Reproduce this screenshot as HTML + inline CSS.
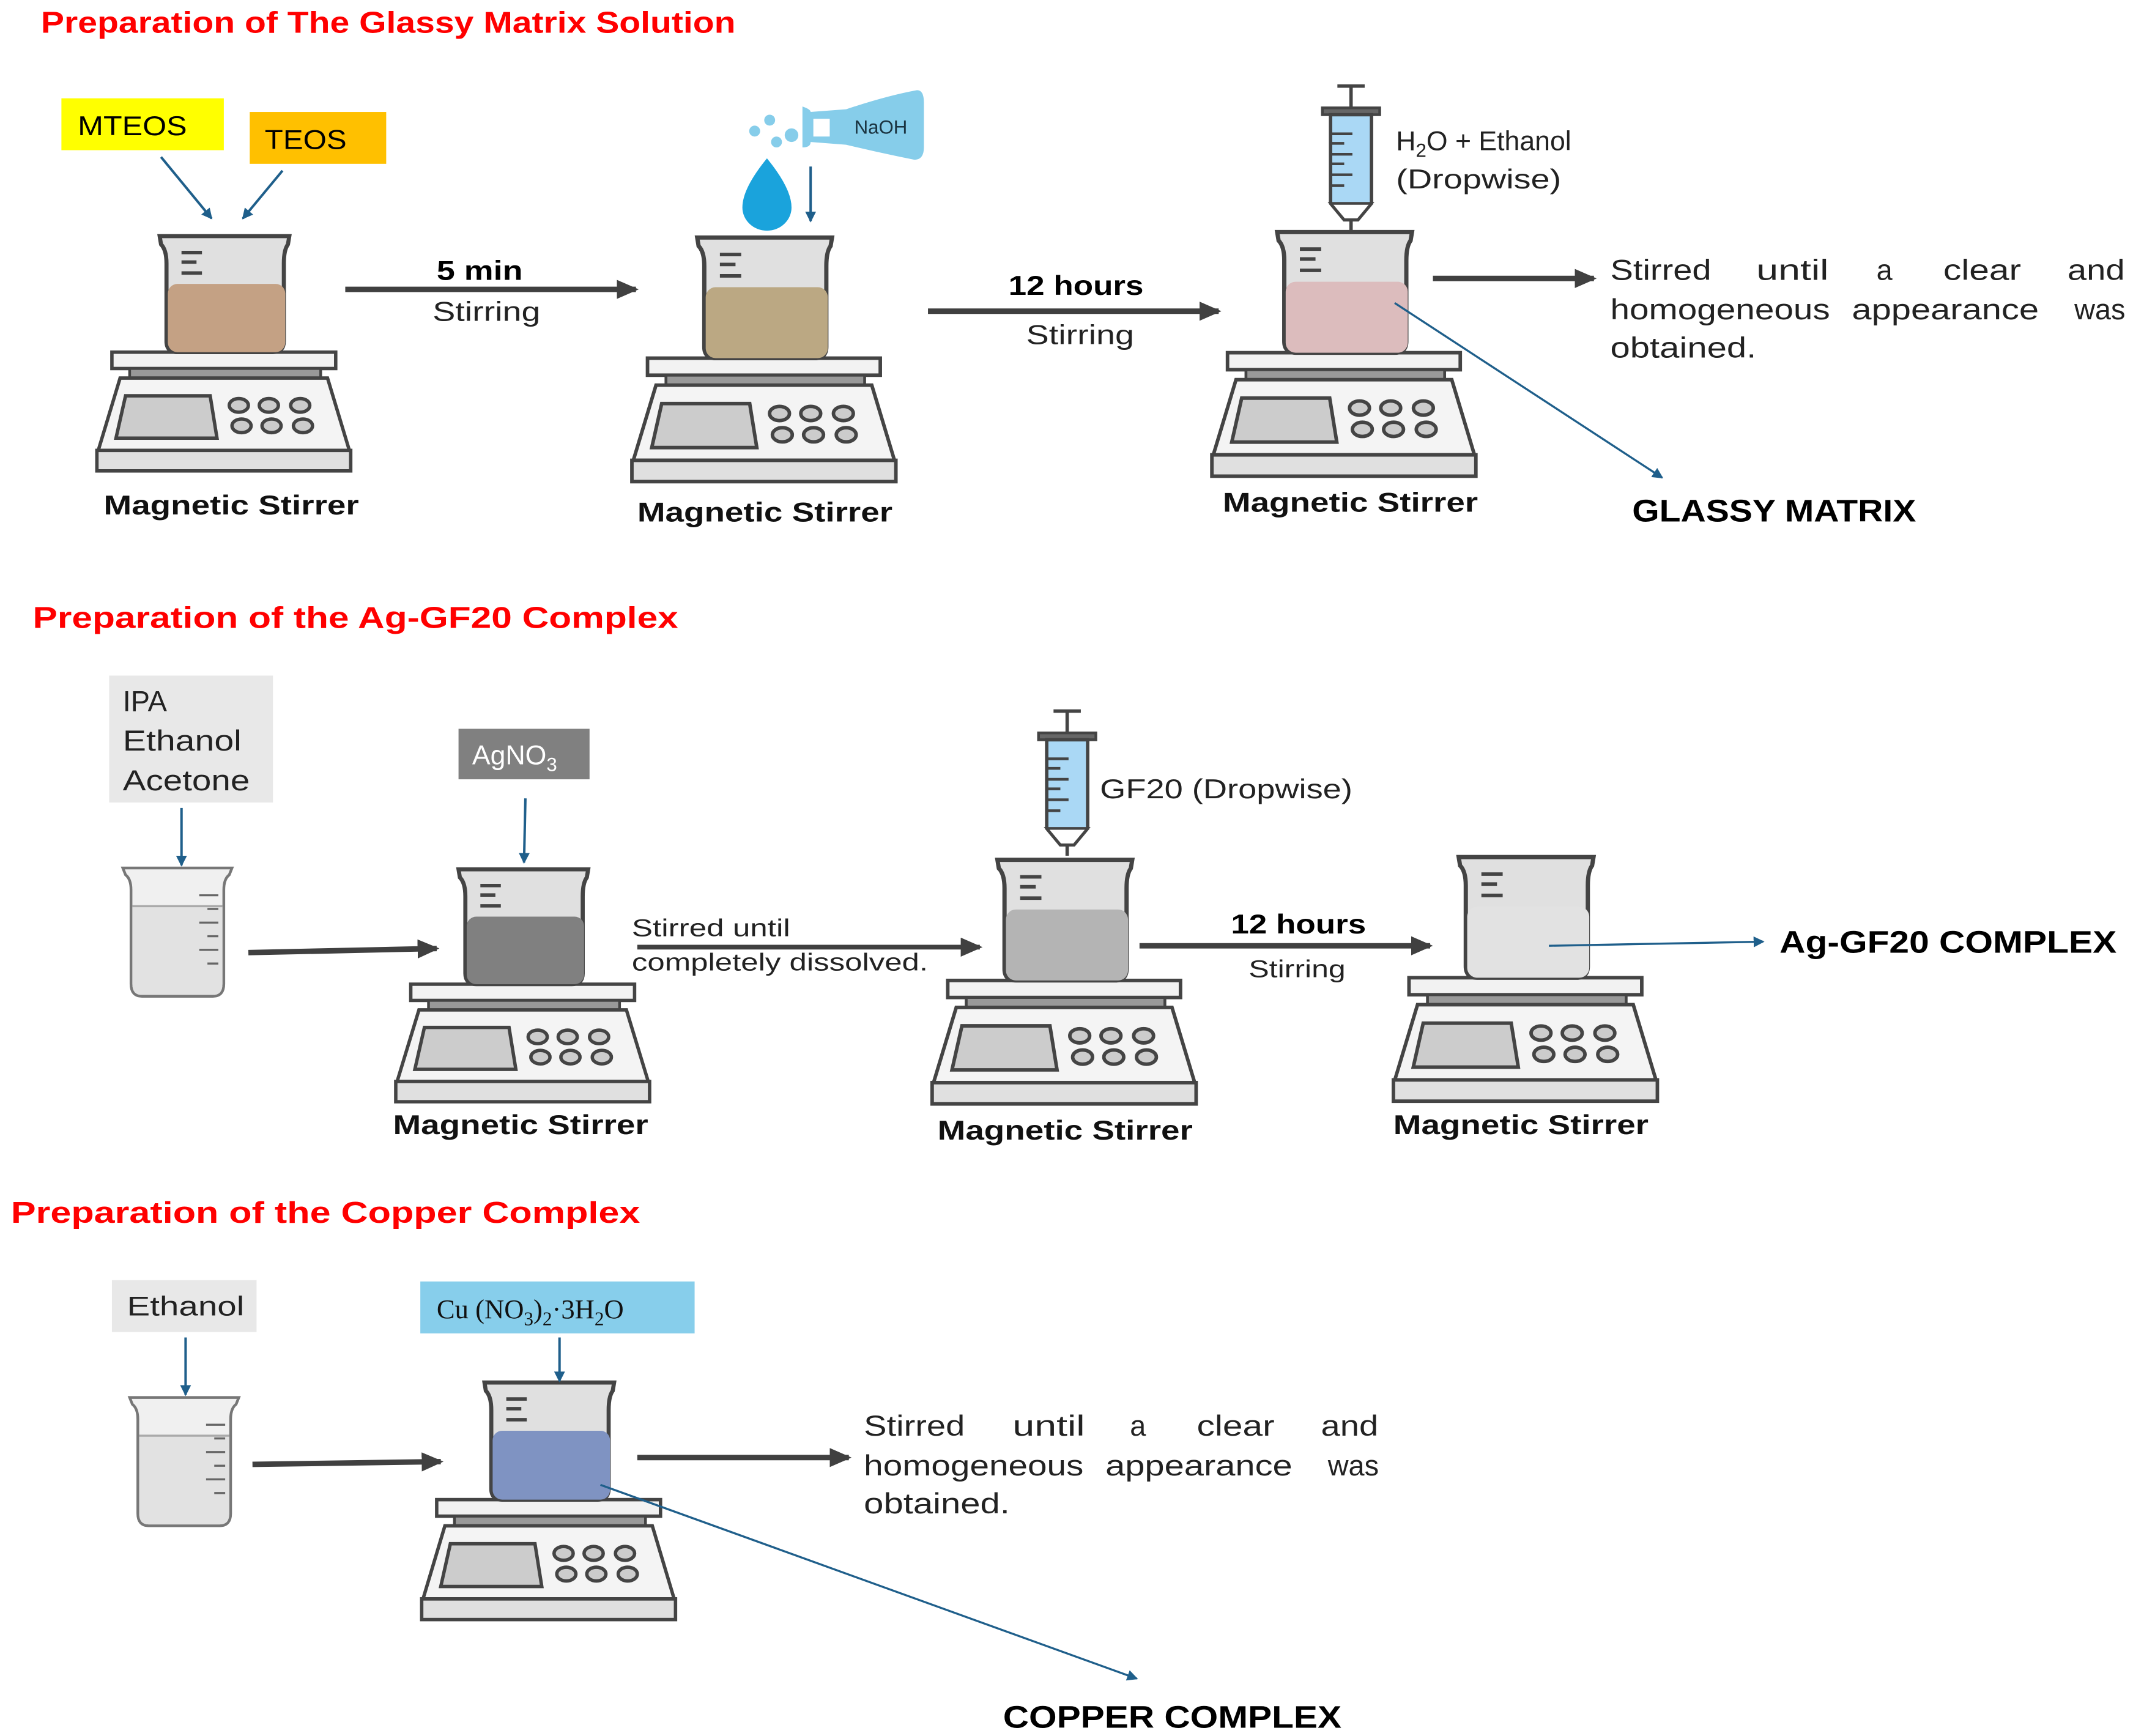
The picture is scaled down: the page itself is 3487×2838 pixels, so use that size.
<!DOCTYPE html>
<html><head><meta charset="utf-8"><style>html,body{margin:0;padding:0;background:#fff}svg{display:block}</style></head><body>
<svg xmlns="http://www.w3.org/2000/svg" width="3487" height="2838" viewBox="0 0 1563 1272" font-family="Liberation Sans, sans-serif">
<defs>
<marker id="ab" markerWidth="8" markerHeight="8" refX="7" refY="4" orient="auto" markerUnits="userSpaceOnUse"><path d="M0,0 L8,4 L0,8 Z" fill="#1f5f8b"/></marker>
<marker id="ad" markerWidth="16" markerHeight="14" refX="14" refY="7" orient="auto" markerUnits="userSpaceOnUse"><path d="M0,0 L16,7 L0,14 Z" fill="#404040"/></marker>
<g id="base">
<rect x="12" y="85" width="164" height="12" fill="#f2f2f2" stroke="#444" stroke-width="2.5"/>
<rect x="25" y="97" width="140" height="7" fill="#999" stroke="#444" stroke-width="2"/>
<polygon points="18,104 170,104 186,157 2,157" fill="#f4f4f4" stroke="#444" stroke-width="2.5"/>
<rect x="1" y="157" width="186" height="15" fill="#e0e0e0" stroke="#444" stroke-width="2.5"/>
<polygon points="22,117 84,117 89,148 15,148" fill="#ccc" stroke="#444" stroke-width="2.5"/>
<g fill="#ccc" stroke="#444" stroke-width="2.5">
<ellipse cx="105" cy="124" rx="7" ry="5"/><ellipse cx="127" cy="124" rx="7" ry="5"/><ellipse cx="150" cy="124" rx="7" ry="5"/>
<ellipse cx="107" cy="139" rx="7" ry="5"/><ellipse cx="129" cy="139" rx="7" ry="5"/><ellipse cx="152" cy="139" rx="7" ry="5"/>
</g>
</g>
<path id="bk" d="M47,0 L142,0 L141,6 Q138,10 138,20 L138,77 Q138,85 130,85 L60,85 Q52,85 52,77 L52,20 Q52,10 48,6 Z"/>
<g id="marks" stroke="#444" stroke-width="2.5"><line x1="63" y1="12" x2="78" y2="12"/><line x1="63" y1="19" x2="74" y2="19"/><line x1="63" y1="27" x2="78" y2="27"/></g>
<g id="syr">
<line x1="-10" y1="0" x2="10" y2="0" stroke="#444" stroke-width="2.5"/>
<line x1="0" y1="0" x2="0" y2="16" stroke="#444" stroke-width="2.5"/>
<rect x="-21" y="16" width="42" height="5" fill="#666" stroke="#444" stroke-width="2"/>
<path d="M-15,21 L15,21 L15,86 L5,98 L-5,98 L-15,86 Z" fill="#aad8f5" stroke="#444" stroke-width="2.5"/>
<path d="M-15,86 L15,86 L5,98 L-5,98 Z" fill="#fff" stroke="#444" stroke-width="2"/>
<line x1="0" y1="98" x2="0" y2="106" stroke="#444" stroke-width="2.5"/>
<g stroke="#444" stroke-width="2"><line x1="-15" y1="35" x2="1" y2="35"/><line x1="-15" y1="42" x2="-5" y2="42"/><line x1="-15" y1="50" x2="1" y2="50"/><line x1="-15" y1="57" x2="-5" y2="57"/><line x1="-15" y1="65" x2="1" y2="65"/><line x1="-15" y1="73" x2="-5" y2="73"/></g>
</g>
<g id="sb">
<path d="M2,0 L82,0 L80,5 Q76,8 76,16 L76,85 Q76,94 68,94 L16,94 Q8,94 8,85 L8,16 Q8,8 4,5 Z" fill="#f0f0f0" stroke="#777" stroke-width="2"/>
<path d="M9,28 L75,28 L75,85 Q75,93 68,93 L16,93 Q9,93 9,85 Z" fill="#e2e2e2"/>
<line x1="9" y1="28" x2="75" y2="28" stroke="#aaa" stroke-width="1.5"/>
<g stroke="#666" stroke-width="1.5"><line x1="58" y1="20" x2="72" y2="20"/><line x1="64" y1="30" x2="72" y2="30"/><line x1="58" y1="40" x2="72" y2="40"/><line x1="64" y1="50" x2="72" y2="50"/><line x1="58" y1="60" x2="72" y2="60"/><line x1="64" y1="70" x2="72" y2="70"/></g>
</g>
</defs>

<g font-weight="bold" fill="#ff0000" font-size="22">
<text x="30" y="24" textLength="509" lengthAdjust="spacingAndGlyphs">Preparation of  The Glassy Matrix Solution</text>
<text x="24" y="460" textLength="473" lengthAdjust="spacingAndGlyphs">Preparation of the Ag-GF20 Complex</text>
<text x="8" y="896" textLength="461" lengthAdjust="spacingAndGlyphs">Preparation of the Copper Complex</text>
</g>

<!-- stirrers -->
<g transform="translate(70,173)"><use href="#base"/><use href="#bk" fill="#e0e0e0" stroke="#444" stroke-width="3"/><rect x="53" y="35" width="86" height="50" rx="7" fill="#c4a184"/><use href="#marks"/></g>
<g transform="translate(462,174) scale(1.04)"><use href="#base"/><use href="#bk" fill="#e0e0e0" stroke="#444" stroke-width="3"/><rect x="53" y="35" width="86" height="50" rx="7" fill="#bba883"/><use href="#marks"/></g>
<g transform="translate(887,170) scale(1.04)"><use href="#base"/><use href="#bk" fill="#e0e0e0" stroke="#444" stroke-width="3"/><rect x="53" y="35" width="86" height="50" rx="7" fill="#dcbcbd"/><use href="#marks"/></g>
<g transform="translate(289,637) scale(1,0.99)"><use href="#base"/><use href="#bk" fill="#e0e0e0" stroke="#444" stroke-width="3"/><rect x="53" y="35" width="86" height="50" rx="7" fill="#808080"/><use href="#marks"/></g>
<g transform="translate(682,630) scale(1.04)"><use href="#base"/><use href="#bk" fill="#e0e0e0" stroke="#444" stroke-width="3"/><rect x="53" y="35" width="86" height="50" rx="7" fill="#b4b4b4"/><use href="#marks"/></g>
<g transform="translate(1020,628) scale(1.04)"><use href="#base"/><use href="#bk" fill="#e0e0e0" stroke="#444" stroke-width="3"/><rect x="53" y="35" width="86" height="50" rx="7" fill="#e2e2e2"/><use href="#marks"/></g>
<g transform="translate(308,1013) scale(1,1.01)"><use href="#base"/><use href="#bk" fill="#e0e0e0" stroke="#444" stroke-width="3"/><rect x="53" y="35" width="86" height="50" rx="7" fill="#7f93c2"/><use href="#marks"/></g>

<g font-weight="bold" font-size="20" fill="#111">
<text x="76" y="377" textLength="187" lengthAdjust="spacingAndGlyphs">Magnetic Stirrer</text>
<text x="467" y="382" textLength="187" lengthAdjust="spacingAndGlyphs">Magnetic Stirrer</text>
<text x="896" y="375" textLength="187" lengthAdjust="spacingAndGlyphs">Magnetic Stirrer</text>
<text x="288" y="831" textLength="187" lengthAdjust="spacingAndGlyphs">Magnetic Stirrer</text>
<text x="687" y="835" textLength="187" lengthAdjust="spacingAndGlyphs">Magnetic Stirrer</text>
<text x="1021" y="831" textLength="187" lengthAdjust="spacingAndGlyphs">Magnetic Stirrer</text>
</g>

<!-- row 1 -->
<rect x="45" y="72" width="119" height="38" fill="#ffff00"/><text x="57" y="99" font-size="20" textLength="80" lengthAdjust="spacingAndGlyphs">MTEOS</text>
<rect x="183" y="82" width="100" height="38" fill="#ffc000"/><text x="194" y="109" font-size="20" textLength="60" lengthAdjust="spacingAndGlyphs">TEOS</text>
<g stroke="#1f5f8b" stroke-width="1.8" marker-end="url(#ab)"><line x1="118" y1="115" x2="155" y2="160"/><line x1="207" y1="125" x2="178" y2="160"/><line x1="594" y1="122" x2="594" y2="162"/></g>
<path d="M562,116 Q580,138 580,152 A18,17 0 0 1 544,152 Q544,138 562,116 Z" fill="#1aa3dc"/>
<g fill="#86cdea"><circle cx="564" cy="88" r="4"/><circle cx="553" cy="96" r="4"/><circle cx="569" cy="104" r="4"/><circle cx="580" cy="99" r="5"/>
<path d="M588,78 Q594,80 594,82 L620,80 Q650,70 672,66 Q677,66 677,75 L677,108 Q677,117 670,117 Q645,112 620,106 L594,104 Q594,108 588,108 Z"/></g>
<rect x="596" y="87" width="12" height="13" fill="#fff"/>
<text x="626" y="98" font-size="14" fill="#1a3340">NaOH</text>
<line x1="253" y1="212" x2="466" y2="212" stroke="#404040" stroke-width="4" marker-end="url(#ad)"/>
<text x="320" y="205" font-size="20" font-weight="bold" textLength="63" lengthAdjust="spacingAndGlyphs">5 min</text>
<text x="317" y="235" font-size="20" fill="#222" textLength="79" lengthAdjust="spacingAndGlyphs">Stirring</text>
<line x1="680" y1="228" x2="893" y2="228" stroke="#404040" stroke-width="4" marker-end="url(#ad)"/>
<text x="739" y="216" font-size="20" font-weight="bold" textLength="99" lengthAdjust="spacingAndGlyphs">12 hours</text>
<text x="752" y="252" font-size="20" fill="#222" textLength="79" lengthAdjust="spacingAndGlyphs">Stirring</text>
<use href="#syr" transform="translate(990,63)"/>
<text x="1023" y="110" font-size="20" fill="#222">H<tspan font-size="14" dy="5">2</tspan><tspan dy="-5">O + Ethanol</tspan></text>
<text x="1023" y="138" font-size="20" fill="#222" textLength="121" lengthAdjust="spacingAndGlyphs">(Dropwise)</text>
<line x1="1050" y1="204" x2="1168" y2="204" stroke="#404040" stroke-width="4" marker-end="url(#ad)"/>
<g font-size="21" fill="#222">
<text y="205"><tspan x="1180" textLength="74" lengthAdjust="spacingAndGlyphs">Stirred</tspan><tspan x="1287" textLength="53" lengthAdjust="spacingAndGlyphs">until</tspan><tspan x="1375">a</tspan><tspan x="1424" textLength="57" lengthAdjust="spacingAndGlyphs">clear</tspan><tspan x="1515" textLength="42" lengthAdjust="spacingAndGlyphs">and</tspan></text>
<text y="234"><tspan x="1180" textLength="161" lengthAdjust="spacingAndGlyphs">homogeneous</tspan><tspan x="1357" textLength="137" lengthAdjust="spacingAndGlyphs">appearance</tspan><tspan x="1520">was</tspan></text>
<text x="1180" y="262" textLength="107" lengthAdjust="spacingAndGlyphs">obtained.</text>
</g>
<line x1="1022" y1="222" x2="1218" y2="350" stroke="#1f5f8b" stroke-width="1.5" marker-end="url(#ab)"/>
<text x="1196" y="382" font-size="23" font-weight="bold" textLength="208" lengthAdjust="spacingAndGlyphs">GLASSY MATRIX</text>

<!-- row 2 -->
<rect x="80" y="495" width="120" height="93" fill="#e8e8e8"/>
<g font-size="21" fill="#222"><text x="90" y="521">IPA</text><text x="90" y="550" textLength="87" lengthAdjust="spacingAndGlyphs">Ethanol</text><text x="90" y="579" textLength="93" lengthAdjust="spacingAndGlyphs">Acetone</text></g>
<rect x="336" y="534" width="96" height="37" fill="#808080"/>
<text x="346" y="560" font-size="20" fill="#fff">AgNO<tspan font-size="14" dy="5">3</tspan></text>
<g stroke="#1f5f8b" stroke-width="1.8" marker-end="url(#ab)"><line x1="133" y1="592" x2="133" y2="634"/><line x1="385" y1="585" x2="384" y2="632"/></g>
<use href="#sb" transform="translate(88,636)"/>
<line x1="182" y1="698" x2="320" y2="695" stroke="#404040" stroke-width="4" marker-end="url(#ad)"/>
<g font-size="18" fill="#222"><text x="463" y="686" textLength="116" lengthAdjust="spacingAndGlyphs">Stirred until</text><text x="463" y="711" textLength="217" lengthAdjust="spacingAndGlyphs">completely dissolved.</text></g>
<line x1="467" y1="694" x2="718" y2="694" stroke="#404040" stroke-width="3.5" marker-end="url(#ad)"/>
<use href="#syr" transform="translate(782,521)"/>
<text x="806" y="585" font-size="20" fill="#222" textLength="185" lengthAdjust="spacingAndGlyphs">GF20 (Dropwise)</text>
<line x1="835" y1="693" x2="1048" y2="693" stroke="#404040" stroke-width="4" marker-end="url(#ad)"/>
<text x="902" y="684" font-size="20" font-weight="bold" textLength="99" lengthAdjust="spacingAndGlyphs">12 hours</text>
<text x="915" y="716" font-size="18" fill="#222" textLength="71" lengthAdjust="spacingAndGlyphs">Stirring</text>
<line x1="1135" y1="693" x2="1292" y2="690" stroke="#1f5f8b" stroke-width="1.5" marker-end="url(#ab)"/>
<text x="1304" y="698" font-size="23" font-weight="bold" textLength="247" lengthAdjust="spacingAndGlyphs">Ag-GF20 COMPLEX</text>

<!-- row 3 -->
<rect x="82" y="938" width="106" height="38" fill="#e8e8e8"/><text x="93" y="964" font-size="20" fill="#222" textLength="86" lengthAdjust="spacingAndGlyphs">Ethanol</text>
<rect x="308" y="939" width="201" height="38" fill="#87ceeb"/>
<text x="320" y="966" font-size="20" font-family="Liberation Serif, serif" fill="#111">Cu (NO<tspan font-size="14" dy="5">3</tspan><tspan dy="-5">)</tspan><tspan font-size="14" dy="5">2</tspan><tspan dy="-5">·3H</tspan><tspan font-size="14" dy="5">2</tspan><tspan dy="-5">O</tspan></text>
<g stroke="#1f5f8b" stroke-width="1.8" marker-end="url(#ab)"><line x1="136" y1="980" x2="136" y2="1022"/><line x1="410" y1="980" x2="410" y2="1012"/></g>
<use href="#sb" transform="translate(93,1024)"/>
<line x1="185" y1="1073" x2="323" y2="1071" stroke="#404040" stroke-width="4" marker-end="url(#ad)"/>
<line x1="467" y1="1068" x2="622" y2="1068" stroke="#404040" stroke-width="4" marker-end="url(#ad)"/>
<g font-size="21" fill="#222">
<text y="1052"><tspan x="633" textLength="74" lengthAdjust="spacingAndGlyphs">Stirred</tspan><tspan x="742" textLength="53" lengthAdjust="spacingAndGlyphs">until</tspan><tspan x="828">a</tspan><tspan x="877" textLength="57" lengthAdjust="spacingAndGlyphs">clear</tspan><tspan x="968" textLength="42" lengthAdjust="spacingAndGlyphs">and</tspan></text>
<text y="1081"><tspan x="633" textLength="161" lengthAdjust="spacingAndGlyphs">homogeneous</tspan><tspan x="810" textLength="137" lengthAdjust="spacingAndGlyphs">appearance</tspan><tspan x="973">was</tspan></text>
<text x="633" y="1109" textLength="107" lengthAdjust="spacingAndGlyphs">obtained.</text>
</g>
<line x1="440" y1="1088" x2="833" y2="1230" stroke="#1f5f8b" stroke-width="1.5" marker-end="url(#ab)"/>
<text x="735" y="1266" font-size="23" font-weight="bold" textLength="248" lengthAdjust="spacingAndGlyphs">COPPER COMPLEX</text>
</svg>
</body></html>
